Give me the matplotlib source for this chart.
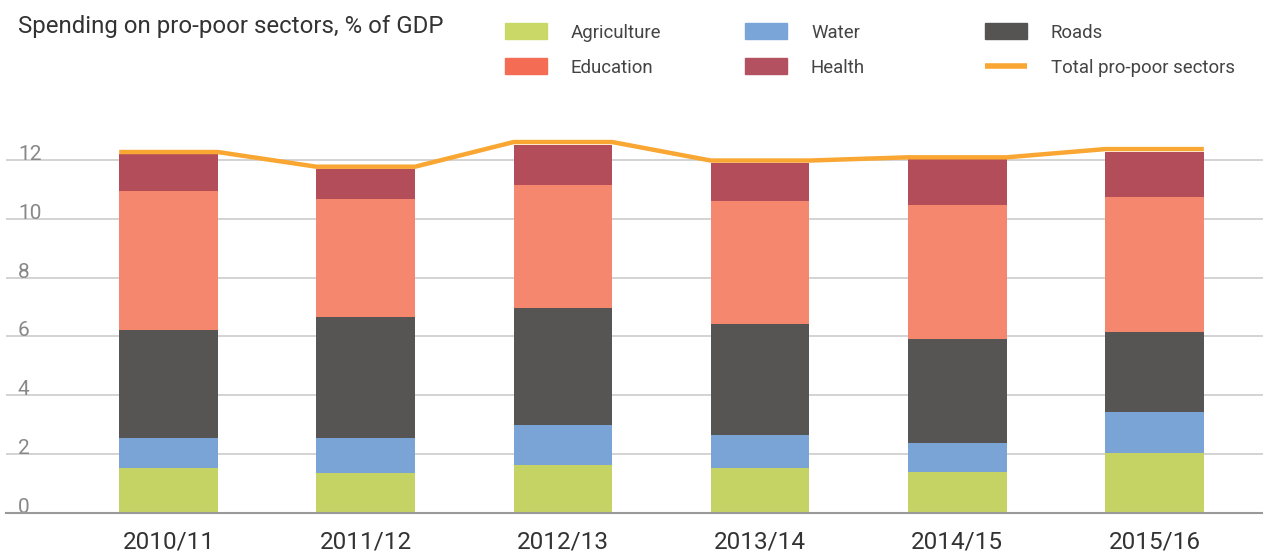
import numpy as np
import matplotlib
matplotlib.use("Agg")
from matplotlib import pyplot as plt
from matplotlib.patches import Rectangle
from matplotlib.lines import Line2D

plt.rcParams['font.family'] = ['Roboto', 'DejaVu Sans']

# data (% of GDP)
years = ["2010/11", "2011/12", "2012/13", "2013/14", "2014/15", "2015/16"]
agriculture = [1.52, 1.35, 1.62, 1.52, 1.39, 2.03]
water = [1.02, 1.19, 1.37, 1.13, 0.98, 1.40]
roads = [3.68, 4.12, 3.98, 3.77, 3.54, 2.72]
education = [4.73, 4.02, 4.19, 4.20, 4.57, 4.60]
health = [1.25, 1.01, 1.36, 1.30, 1.55, 1.54]
total = [12.28, 11.78, 12.62, 11.99, 12.10, 12.38]

series = [("Agriculture", agriculture, "#c5d364", "#c9d866"),
          ("Water", water, "#7aa4d6", "#79a5d8"),
          ("Roads", roads, "#565553", "#555452"),
          ("Education", education, "#f4876e", "#f46c53"),
          ("Health", health, "#b34d59", "#b45160")]
total_color = "#f9a633"

fig = plt.figure(figsize=(12.63, 5.52), dpi=100)
ax = fig.add_axes([6/1263, 1 - 512.7/552, 1 - 6/1263, (512.7 - 130)/552])

x = np.arange(len(years))
w = 0.5
bottom = np.zeros(len(years))
for name, vals, col, _ in series:
    ax.bar(x, vals, w, bottom=bottom, color=col, zorder=2)
    bottom = bottom + np.array(vals)

# total line runs flat across each bar, then slants to the next one
lx = np.column_stack([x - w/2, x + w/2]).ravel()
ly = np.repeat(total, 2)
ax.plot(lx, ly, color=total_color, lw=3.2, zorder=3, solid_capstyle='butt')

ax.set_xlim(-0.824, 5.55)
ax.set_ylim(0, 13.03)
ax.set_axisbelow(True)
ax.set_yticks(range(0, 13, 2))
ax.grid(axis='y', color='#cccccc', lw=1.2)
for s in ['top', 'right', 'left']:
    ax.spines[s].set_visible(False)
ax.spines['bottom'].set_color('#999999')
ax.spines['bottom'].set_linewidth(1.5)

ax.set_xticks(x)
ax.set_xticklabels(years, fontsize=17.5, color='#333333')
ax.tick_params(axis='x', length=0, pad=13)
ax.tick_params(axis='y', length=0, pad=-8.6, labelsize=15, labelcolor='#888888')
for lab in ax.get_yticklabels():
    lab.set_horizontalalignment('left')
    lab.set_verticalalignment('baseline')

fig.text(18/1263, 1 - 27/552, "Spending on pro-poor sectors, % of GDP",
         fontsize=17.3, color='#333333', va='center', ha='left')

# legend drawn by hand: 3 columns x 2 rows
leg_items = [(series[0][0], series[0][3], 505, 31), (series[1][0], series[1][3], 745, 31),
             (series[2][0], series[2][3], 985, 31), (series[3][0], series[3][3], 505, 66),
             (series[4][0], series[4][3], 745, 66)]
for name, col, px, py in leg_items:
    fig.add_artist(Rectangle((px/1263, 1 - (py + 8)/552), 42/1263, 16/552,
                             transform=fig.transFigure, color=col))
    fig.text((px + 66)/1263, 1 - (py + 2)/552, name, fontsize=13.4, color='#444444', va='center')
fig.add_artist(Line2D([985/1263, 1027/1263], [1 - 66/552, 1 - 66/552],
                      transform=fig.transFigure, color=total_color, lw=4, solid_capstyle='butt'))
fig.text(1051/1263, 1 - 68/552, "Total pro-poor sectors", fontsize=13.4, color='#444444', va='center')

fig.savefig("out.png", dpi=100)
